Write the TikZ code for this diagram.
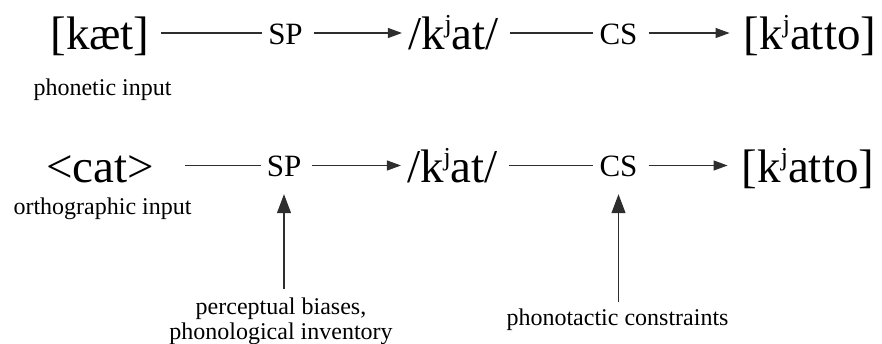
\documentclass[tikz,border=0pt]{standalone}
\usepackage{fontspec}
\setmainfont{Liberation Serif}
\usetikzlibrary{arrows.meta}
\definecolor{lineGrey}{HTML}{2E2E2E}
% raised palatal j
\newcommand{\palj}{\raisebox{0.36em}{\scalebox{0.55}{j}}}

\begin{document}
\begin{tikzpicture}[
    x=1pt, y=-1pt,
    form/.style={font=\fontsize{47}{50}\selectfont, text height=41pt, text depth=8pt, inner sep=0pt},
    stage/.style={font=\fontsize{31}{34}\selectfont, text height=22pt, text depth=0pt, inner sep=0pt},
    note/.style={font=\fontsize{24}{25}\selectfont, inner sep=0pt, align=center},
    link/.style={draw=lineGrey, line width=1.1pt, shorten <=11pt, shorten >=6pt},
    feed/.style={link, -{Triangle[length=14pt, width=10pt]}},
    cause/.style={draw=lineGrey, line width=1.1pt, shorten <=9pt, shorten >=17.5pt, -{Triangle[length=19pt, width=14pt]}}
]
\useasboundingbox (0,0) rectangle (882,343);

% Phonetic route
\node[form] (kaet) at (100,33) {[kæt]};
\node[stage] (sp1) at (285.5,33) {SP};
\node[form] (kat1) at (453.5,33) {/k\palj at/};
\node[stage] (cs1) at (618.5,33) {CS};
\node[form] (out1) at (810,33) {[k\palj atto]};
\node[note, anchor=base] (phon) at (102.5,95) {phonetic input};

\draw[link] (kaet) -- (sp1);
\draw[feed] (sp1) -- (kat1);
\draw[link] (kat1) -- (cs1);
\draw[feed, shorten >=14pt] (cs1) -- (out1);

% Orthographic route
\node[form] (cat) at (100,165.5) {<cat>};
\node[stage] (sp2) at (284,165.5) {SP};
\node[form] (kat2) at (452.5,165.5) {/k\palj at/};
\node[stage] (cs2) at (618.5,165.5) {CS};
\node[form] (out2) at (808,165.5) {[k\palj atto]};
\node[note, anchor=base] (orth) at (102.5,214) {orthographic input};

\draw[link, shorten <=31pt] (cat) -- (sp2);
\draw[feed] (sp2) -- (kat2);
\draw[link] (kat2) -- (cs2);
\draw[feed, shorten >=14pt] (cs2) -- (out2);

% What drives each stage
\node[note, anchor=north] (bias) at (281,297.5) {perceptual biases,\\phonological inventory};
\node[note, anchor=base] (tact) at (617.5,325.7) {phonotactic constraints};

\draw[cause] (bias.north -| sp2) -- (sp2);
\draw[cause, shorten <=7pt] (tact.north -| cs2) -- (cs2);
\end{tikzpicture}
\end{document}
